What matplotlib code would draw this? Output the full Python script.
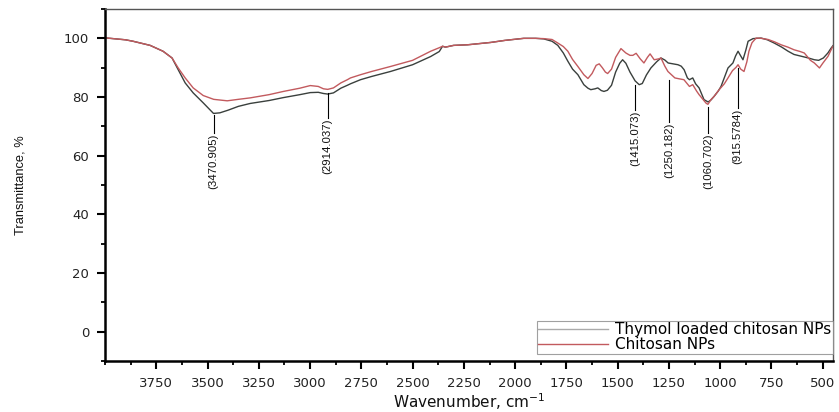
import matplotlib
matplotlib.use("Agg")
import matplotlib.pyplot as plt
from matplotlib import font_manager
from matplotlib.ticker import MultipleLocator, FixedLocator

# ---------------- data ----------------
wn_thymol = [4000, 3990, 3900, 3863, 3780, 3717, 3673, 3643, 3609, 3570, 3521, 3471, 3440,
             3400, 3350, 3292, 3200, 3130, 3050, 2999, 2960, 2935, 2914, 2886, 2850, 2818,
             2803, 2754, 2700, 2608, 2500, 2412, 2370, 2354, 2340, 2300, 2232, 2119, 2050,
             1958, 1900, 1860, 1820, 1792, 1765, 1743, 1720, 1694, 1665, 1645, 1631, 1610,
             1597, 1580, 1567, 1550, 1530, 1510, 1490, 1476, 1460, 1440, 1415, 1395, 1380,
             1360, 1338, 1310, 1289, 1270, 1254, 1230, 1206, 1190, 1176, 1160, 1150, 1134,
             1120, 1103, 1079, 1059, 1045, 1030, 1010, 996, 975, 962, 938, 925, 913, 900,
             889, 875, 864, 840, 801, 770, 737, 700, 669, 640, 605, 570, 541, 520, 497,
             475, 459, 450]
t_thymol = [100.2, 100.1, 99.5, 99.0, 97.6, 95.6, 93.3, 89.3, 84.8, 81.4, 78.0, 74.4, 74.6,
            75.5, 76.8, 77.8, 78.8, 79.8, 80.8, 81.5, 81.6, 81.2, 81.0, 81.4, 83.0, 84.0,
            84.5, 85.9, 87.0, 88.7, 91.0, 93.8, 95.5, 97.3, 97.0, 97.6, 97.8, 98.6, 99.3,
            100.0, 100.0, 99.8, 99.0, 97.6, 95.0, 92.2, 89.5, 87.6, 84.2, 83.0, 82.5, 82.8,
            83.1, 82.2, 81.9, 82.3, 84.0, 88.5, 91.5, 92.7, 91.5, 88.5, 85.5, 84.2, 84.6,
            87.5, 89.9, 92.0, 93.3, 92.6, 91.6, 91.3, 91.0, 90.5, 89.3, 86.5, 85.9, 86.5,
            84.5, 83.1, 79.1, 78.3, 79.0, 80.2, 82.0, 83.6, 87.5, 89.9, 91.6, 94.0, 95.6, 94.0,
            92.7, 96.0, 99.0, 99.9, 100.1, 99.5, 98.4, 97.0, 95.6, 94.5, 93.9, 93.3, 92.7, 92.5, 93.3,
            95.0, 96.7, 97.5]

wn_chitosan = [4000, 3990, 3900, 3863, 3780, 3717, 3673, 3643, 3609, 3570, 3521, 3470, 3404,
               3350, 3292, 3200, 3130, 3050, 2999, 2960, 2935, 2914, 2886, 2850, 2818, 2803,
               2754, 2700, 2608, 2500, 2412, 2370, 2354, 2340, 2300, 2232, 2119, 2050, 1958,
               1900, 1860, 1820, 1792, 1765, 1743, 1720, 1694, 1665, 1645, 1625, 1605, 1590,
               1575, 1560, 1549, 1530, 1510, 1484, 1460, 1440, 1426, 1410, 1390, 1372, 1355,
               1342, 1322, 1300, 1289, 1270, 1255, 1221, 1200, 1177, 1150, 1134, 1115, 1103,
               1069, 1060, 1045, 1030, 1005, 980, 962, 940, 923, 913, 900, 884, 870, 860, 845,
               825, 800, 766, 735, 703, 670, 640, 610, 590, 560, 541, 516, 500, 474, 455, 450]
t_chitosan = [100.2, 100.1, 99.5, 99.0, 97.6, 95.6, 93.3, 89.9, 86.5, 83.1, 80.5, 79.2, 78.7,
              79.2, 79.7, 80.8, 81.9, 83.0, 83.9, 83.6, 82.8, 82.6, 83.1, 84.8, 85.9, 86.5,
              87.6, 88.7, 90.4, 92.5, 95.6, 96.8, 97.3, 97.0, 97.6, 97.8, 98.6, 99.3, 100.0,
              100.0, 99.9, 99.6, 98.4, 97.2, 95.6, 92.8, 90.4, 87.6, 86.3, 88.0, 90.8, 91.3,
              90.0, 88.5, 88.0, 89.5, 93.5, 96.5, 95.0, 94.2, 94.2, 94.9, 93.0, 91.6, 93.5,
              94.7, 92.7, 93.0, 93.3, 90.5, 88.7, 86.5, 86.2, 85.9, 83.6, 84.2, 82.0, 80.8,
              77.9, 77.5, 79.1, 80.2, 82.5, 84.5, 86.5, 89.0, 90.1, 91.0, 89.5, 88.7, 92.0, 95.6, 98.5,
              100.1, 100.0, 99.6, 98.8, 97.8, 97.0, 96.1, 95.5, 95.0, 92.5, 91.6, 89.9, 91.5, 93.9, 96.7, 97.3]

series_labels = ["Thymol loaded chitosan NPs", "Chitosan NPs"]

peak_labels = ["(3470.905)", "(2914.037)", "(1415.073)", "(1250.182)", "(1060.702)", "(915.5784)"]
peak_wn = [3470.905, 2914.037, 1415.073, 1250.182, 1060.702, 915.5784]
peak_line_top = [74.0, 81.4, 84.2, 85.9, 76.7, 90.0]
peak_line_bottom = [67.8, 72.9, 75.7, 71.6, 67.8, 76.3]

x_ticks = [3750, 3500, 3250, 3000, 2750, 2500, 2250, 2000, 1750, 1500, 1250, 1000, 750, 500]
y_ticks = [0, 20, 40, 60, 80, 100]

# ---------------- fonts ----------------
names = {f.name for f in font_manager.fontManager.ttflist}
narrow = "Liberation Sans Narrow" if "Liberation Sans Narrow" in names else "Liberation Sans"
wide = "DejaVu Sans"
plt.rcParams["mathtext.default"] = "regular"

# ---------------- figure ----------------
fig = plt.figure(figsize=(8.39, 4.12), dpi=100)
ax = fig.add_axes([105 / 839, 1 - 361 / 412, (833 - 105) / 839, (361 - 9) / 412])

c_thymol = "#3a403d"
c_chitosan = "#c25a5e"
ax.plot(wn_thymol, t_thymol, color=c_thymol, lw=1.0, label=series_labels[0])
ax.plot(wn_chitosan, t_chitosan, color=c_chitosan, lw=1.0, label=series_labels[1])

for lab, x, y0, y1 in zip(peak_labels, peak_wn, peak_line_top, peak_line_bottom):
    ax.plot([x, x], [y0, y1], color="black", lw=0.8)
    ax.text(x, y1 - 0.3, lab, rotation=90, ha="center", va="top",
            fontsize=8.2, family=[narrow, "DejaVu Sans"], color="#111111")

ax.set_xlim(4000, 450)
ax.set_ylim(-10, 110)
ax.xaxis.set_major_locator(FixedLocator(x_ticks))
ax.xaxis.set_minor_locator(MultipleLocator(125))
ax.yaxis.set_major_locator(FixedLocator(y_ticks))
ax.yaxis.set_minor_locator(MultipleLocator(10))

for s in ["left", "bottom"]:
    ax.spines[s].set_linewidth(1.8)
    ax.spines[s].set_color("black")
for s in ["top", "right"]:
    ax.spines[s].set_linewidth(1.0)
    ax.spines[s].set_color("#555555")

ax.tick_params(axis="both", which="major", direction="out", length=5.5, width=1.5,
               labelsize=9.5, pad=6, colors="black")
ax.tick_params(axis="both", which="minor", direction="out", length=3, width=1.3)
for lbl in ax.get_xticklabels() + ax.get_yticklabels():
    lbl.set_family(wide)
    lbl.set_color("#222222")

ax.set_xlabel("Wavenumber, cm$^{-1}$", fontsize=11, family=wide, color="#111111")
ax.xaxis.set_label_coords(0.5, -0.085)
ax.set_ylabel("Transmittance, %", fontsize=9.3, family=[narrow, "DejaVu Sans"], color="#111111")
ax.yaxis.set_label_coords(-0.108, 0.5)

leg = ax.legend(loc="lower right", bbox_to_anchor=(1.0, 0.02),
                prop={"family": wide, "size": 11}, frameon=True, fancybox=False,
                handlelength=4.6, handletextpad=0.45, labelspacing=0.0,
                borderpad=0.1, borderaxespad=0.0)
leg.get_frame().set_edgecolor("#888888")
leg.get_frame().set_linewidth(0.8)
leg.get_lines()[0].set_color("#aaaaaa")

fig.savefig("out.png", dpi=100)
